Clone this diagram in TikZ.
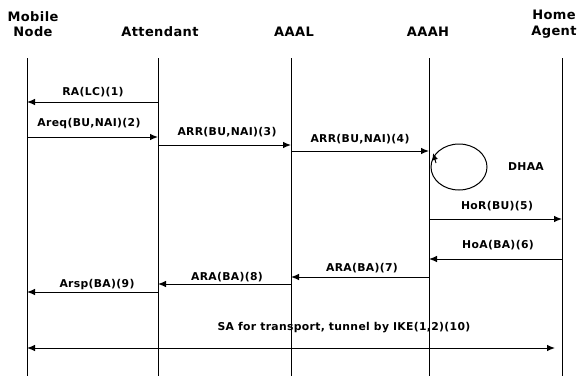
\documentclass[tikz,border=0pt]{standalone}
\usepackage{fontspec}
\setmainfont{DejaVu Sans}[LetterSpace=3]
\usetikzlibrary{arrows.meta}
\begin{document}
\begin{tikzpicture}[x=1pt,y=-1pt,
  hdr/.style={font=\bfseries\fontsize{13}{15.5}\selectfont,align=center,inner sep=0pt},
  lbl/.style={font=\bfseries\fontsize{10.8}{12}\selectfont,inner sep=0pt},
  life/.style={line width=1pt},
  msg/.style={line width=1pt,-{Latex[length=8pt,width=6.5pt]}},
  msgb/.style={line width=1pt,{Latex[length=8pt,width=6.5pt]}-{Latex[length=8pt,width=6.5pt]}}]
\useasboundingbox (0,0) rectangle (582,376);
% headers
\node[hdr] (hmn) at (33,24) {Mobile\\Node};
\node[hdr] (hat) at (160,32) {Attendant};
\node[hdr] (hal) at (294,32) {AAAL};
\node[hdr] (hah) at (428,32) {AAAH};
\node[hdr] (hha) at (554,24) {Home\\Agent};
% lifelines
\coordinate (mn) at (27,58);  \coordinate (mnb) at (27,376);
\coordinate (at) at (158,58); \coordinate (atb) at (158,376);
\coordinate (al) at (291,58); \coordinate (alb) at (291,376);
\coordinate (ah) at (429,58); \coordinate (ahb) at (429,376);
\coordinate (ha) at (562,58); \coordinate (hab) at (562,376);
\draw[life] (mn) -- (mnb);
\draw[life] (at) -- (atb);
\draw[life] (al) -- (alb);
\draw[life] (ah) -- (ahb);
\draw[life] (ha) -- (hab);
% messages
\draw[msg] (at |- 0,102) -- (mn |- 0,102);
\node[lbl] (l1) at (93,92) {RA(LC)(1)};
\draw[msg] (mn |- 0,137) -- (at |- 0,137);
\node[lbl] (l2) at (89,124) {Areq(BU,NAI)(2)};
\draw[msg] (at |- 0,145) -- (al |- 0,145);
\node[lbl] (l3) at (227,132) {ARR(BU,NAI)(3)};
\draw[msg] (al |- 0,151) -- (ah |- 0,151);
\node[lbl] (l4) at (360,139) {ARR(BU,NAI)(4)};
\draw[line width=1pt] (459,167) ellipse [x radius=28, y radius=23];
\draw[-{Latex[length=7pt,width=6pt]},line width=1pt] (436,163) -- (433,153);
\node[lbl] (dh) at (526,167) {DHAA};
\draw[msg] (ah |- 0,219) -- (ha |- 0,219);
\node[lbl] (l5) at (497,206) {HoR(BU)(5)};
\draw[msg] (ha |- 0,259) -- (ah |- 0,259);
\node[lbl] (l6) at (498,245) {HoA(BA)(6)};
\draw[msg] (ah |- 0,277) -- (al |- 0,277);
\node[lbl] (l7) at (362,268) {ARA(BA)(7)};
\draw[msg] (al |- 0,284) -- (at |- 0,284);
\node[lbl] (l8) at (227,277) {ARA(BA)(8)};
\draw[msg] (at |- 0,292) -- (mn |- 0,292);
\node[lbl] (l9) at (97,285) {Arsp(BA)(9)};
\coordinate (sae) at (555,348);
\draw[msgb] (mn |- 0,348) -- (sae);
\node[lbl] (l10) at (344,328) {SA for transport, tunnel by IKE(1,2)(10)};
\end{tikzpicture}
\end{document}
